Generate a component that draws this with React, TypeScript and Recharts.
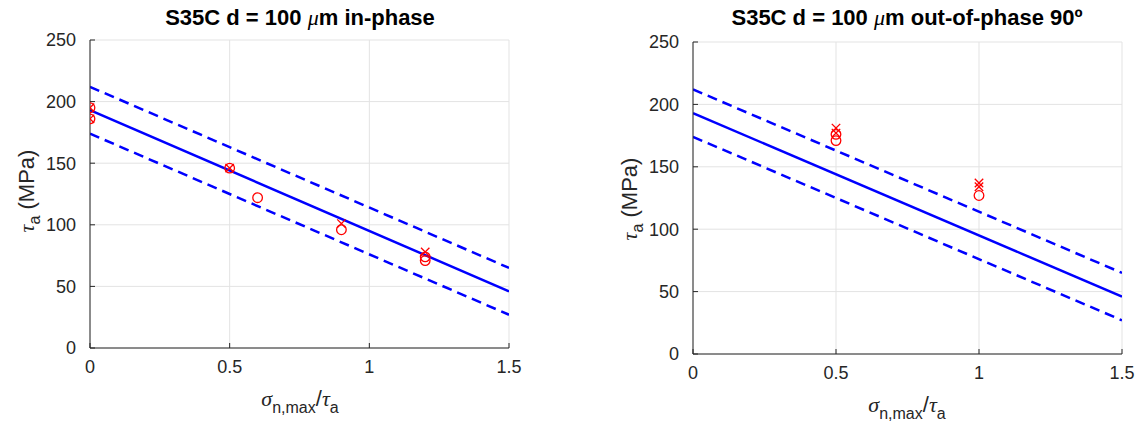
import React from 'react';
import { ComposedChart, Line, Scatter, XAxis, YAxis, CartesianGrid } from 'recharts';

const xTicks = [0, 0.5, 1, 1.5];
const yTicks = [0, 50, 100, 150, 200, 250];

const meanLine = [{ x: 0, y: 193 }, { x: 1.5, y: 46 }];
const upperLine = [{ x: 0, y: 212 }, { x: 1.5, y: 65 }];
const lowerLine = [{ x: 0, y: 174 }, { x: 1.5, y: 27 }];

const inPhaseCircles = [
  { x: 0, y: 195 }, { x: 0, y: 186 }, { x: 0.5, y: 146 }, { x: 0.6, y: 122 },
  { x: 0.9, y: 96 }, { x: 1.2, y: 74 }, { x: 1.2, y: 71 },
];
const inPhaseCrosses = [
  { x: 0, y: 195 }, { x: 0, y: 186 }, { x: 0.5, y: 146 }, { x: 0.9, y: 101 }, { x: 1.2, y: 78 },
];
const outPhaseCircles = [
  { x: 0.5, y: 176 }, { x: 0.5, y: 171 }, { x: 1, y: 127 },
];
const outPhaseCrosses = [
  { x: 0.5, y: 181 }, { x: 0.5, y: 177 }, { x: 1, y: 137 }, { x: 1, y: 134 },
];

const RED = '#ff0000';
const BLUE = '#0000ff';
const AX = '#262626';
const FONT = '"Liberation Sans", Arial, sans-serif';
const SERIF = '"Liberation Serif", serif';

const CircleMark = (p: any) => (
  <circle cx={p.cx} cy={p.cy} r={4.8} fill="none" stroke={RED} strokeWidth={1.3} />
);
const CrossMark = (p: any) => {
  const s = 4.2;
  return (
    <g stroke={RED} strokeWidth={1.3}>
      <line x1={p.cx - s} y1={p.cy - s} x2={p.cx + s} y2={p.cy + s} />
      <line x1={p.cx - s} y1={p.cy + s} x2={p.cx + s} y2={p.cy - s} />
    </g>
  );
};

const tickStyle = { fill: AX, fontSize: 18, fontFamily: FONT };

function Panel(props: {
  width: number; height: number; margin: any; circles: any[]; crosses: any[];
}) {
  return (
    <ComposedChart width={props.width} height={props.height} margin={props.margin}>
      <CartesianGrid stroke="#e3e3e3" strokeWidth={1} />
      <XAxis
        type="number"
        dataKey="x"
        domain={[0, 1.5]}
        ticks={xTicks}
        height={30}
        tick={tickStyle}
        tickSize={-5}
        tickMargin={17}
        axisLine={{ stroke: AX }}
        tickLine={{ stroke: AX }}
        allowDataOverflow
      />
      <YAxis
        type="number"
        dataKey="y"
        domain={[0, 250]}
        ticks={yTicks}
        width={60}
        tick={tickStyle}
        tickSize={-5}
        tickMargin={19}
        axisLine={{ stroke: AX }}
        tickLine={{ stroke: AX }}
        allowDataOverflow
      />
      <Line data={upperLine} dataKey="y" stroke={BLUE} strokeWidth={2.5} strokeDasharray="10 6" dot={false} isAnimationActive={false} />
      <Line data={meanLine} dataKey="y" stroke={BLUE} strokeWidth={2.5} dot={false} isAnimationActive={false} />
      <Line data={lowerLine} dataKey="y" stroke={BLUE} strokeWidth={2.5} strokeDasharray="10 6" dot={false} isAnimationActive={false} />
      <Scatter data={props.circles} dataKey="y" shape={CircleMark} isAnimationActive={false} />
      <Scatter data={props.crosses} dataKey="y" shape={CrossMark} isAnimationActive={false} />
    </ComposedChart>
  );
}

const abs = (x: number, y: number, extra: any = {}): any => ({
  position: 'absolute', left: x, top: y, transform: 'translate(-50%, -50%)', whiteSpace: 'nowrap', fontFamily: FONT, lineHeight: 1, ...extra,
});

function YLabel({ x, y }: { x: number; y: number }) {
  return (
    <div style={abs(x, y, { transform: 'translate(-50%, -50%) rotate(-90deg)', fontSize: 22, color: AX })}>
      <i style={{ fontFamily: SERIF }}>τ</i>
      <span style={{ fontSize: 16, position: 'relative', top: 6 }}>a</span> (MPa)
    </div>
  );
}

function XLabel({ x, y }: { x: number; y: number }) {
  return (
    <div style={abs(x, y, { fontSize: 22, color: AX })}>
      <i style={{ fontFamily: SERIF }}>σ</i>
      <span style={{ fontSize: 16, position: 'relative', top: 7 }}>n,max</span>/
      <i style={{ fontFamily: SERIF }}>τ</i>
      <span style={{ fontSize: 16, position: 'relative', top: 7 }}>a</span>
    </div>
  );
}

function Title({ x, y, text, tail }: { x: number; y: number; text: string; tail: string }) {
  return (
    <div style={abs(x, y, { fontSize: 22, fontWeight: 'bold', color: '#000' })}>
      {text} <i style={{ fontFamily: SERIF, fontWeight: 'normal' }}>μ</i>{tail}
    </div>
  );
}

export default function App() {
  return (
    <div style={{ position: 'absolute', left: 0, top: 0, width: 1142, height: 428, background: '#fff' }}>
      <div style={{ position: 'absolute', left: 0, top: 0 }}>
        <Panel
          width={560}
          height={428}
          margin={{ top: 40, right: 51, bottom: 50, left: 30 }}
          circles={inPhaseCircles}
          crosses={inPhaseCrosses}
        />
      </div>
      <div style={{ position: 'absolute', left: 560, top: 0 }}>
        <Panel
          width={582}
          height={428}
          margin={{ top: 42, right: 20, bottom: 44, left: 73 }}
          circles={outPhaseCircles}
          crosses={outPhaseCrosses}
        />
      </div>
      <Title x={300} y={18} text="S35C d = 100" tail="m in-phase" />
      <Title x={907} y={18} text="S35C d = 100" tail="m out-of-phase 90º" />
      <YLabel x={27} y={191} />
      <YLabel x={630} y={199} />
      <XLabel x={300} y={399} />
      <XLabel x={907} y={405} />
    </div>
  );
}
